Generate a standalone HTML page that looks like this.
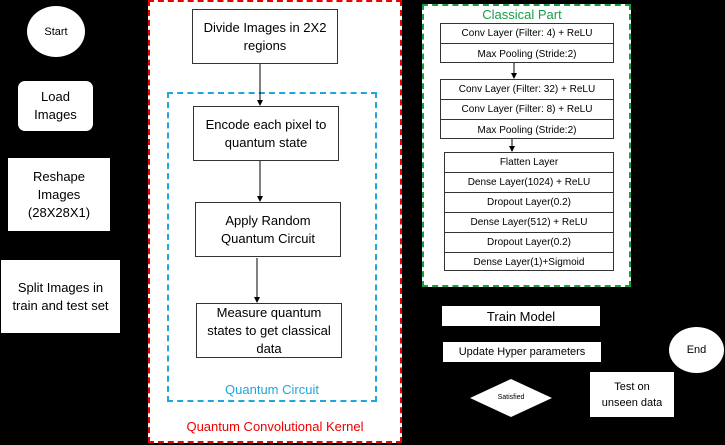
<!DOCTYPE html>
<html><head><style>
body{margin:0;width:725px;height:445px;background:#000;position:relative;overflow:hidden;font-family:"Liberation Sans",sans-serif;}
.b{position:absolute;background:#fff;box-sizing:border-box;display:flex;align-items:center;justify-content:center;text-align:center;color:#000;}
.k{border:1px solid #333;}
.t{position:absolute;text-align:center;}
.row{height:20px;border-bottom:1px solid #333;box-sizing:border-box;font-size:10px;display:flex;align-items:center;justify-content:center;}
.row:last-child{border-bottom:none;}
.g{position:absolute;background:#fff;border:1px solid #333;box-sizing:border-box;}
</style></head><body>
<div class="b" style="left:27px;top:6px;width:58px;height:51px;border-radius:50%;font-size:11px;">Start</div>
<div class="b" style="left:18px;top:81px;width:75px;height:50px;border-radius:7px;font-size:13px;line-height:18px;">Load<br>Images</div>
<div class="b" style="left:8px;top:158px;width:102px;height:73px;font-size:13px;line-height:18px;">Reshape<br>Images<br>(28X28X1)</div>
<div class="b" style="left:1px;top:260px;width:119px;height:73px;font-size:13px;line-height:18px;">Split Images in<br>train and test set</div>

<div style="position:absolute;left:148px;top:0;width:254px;height:443px;background:#fff;border:2px dashed #e00;box-sizing:border-box;"></div>
<div style="position:absolute;left:167px;top:92px;width:210px;height:310px;border:2px dashed #1ea7dd;box-sizing:border-box;"></div>
<div class="b k" style="left:192px;top:9px;width:146px;height:55px;font-size:13px;line-height:18px;">Divide Images in 2X2<br>regions</div>
<div class="b k" style="left:193px;top:106px;width:146px;height:55px;font-size:13px;line-height:18px;">Encode each pixel to<br>quantum state</div>
<div class="b k" style="left:195px;top:202px;width:146px;height:55px;font-size:13px;line-height:18px;">Apply Random<br>Quantum Circuit</div>
<div class="b k" style="left:196px;top:303px;width:146px;height:55px;font-size:13px;line-height:18px;">Measure quantum<br>states to get classical<br>data</div>
<div class="t" style="left:167px;top:382px;width:210px;color:#1ea7dd;font-size:13px;">Quantum Circuit</div>
<div class="t" style="left:148px;top:419px;width:254px;color:#e00;font-size:13px;">Quantum Convolutional Kernel</div>

<div style="position:absolute;left:422px;top:4px;width:209px;height:283px;background:#fff;border:2px dashed #1a9e45;box-sizing:border-box;"></div>
<div class="t" style="left:422px;top:7px;width:200px;color:#1a9e45;font-size:13px;">Classical Part</div>
<div class="g" style="left:440px;top:23px;width:174px;height:40px;"><div class="row">Conv Layer (Filter: 4) + ReLU</div><div class="row">Max Pooling (Stride:2)</div></div>
<div class="g" style="left:440px;top:79px;width:174px;height:60px;"><div class="row">Conv Layer (Filter: 32) + ReLU</div><div class="row">Conv Layer (Filter: 8) + ReLU</div><div class="row">Max Pooling (Stride:2)</div></div>
<div class="g" style="left:444px;top:152px;width:170px;height:119px;"><div class="row">Flatten Layer</div><div class="row">Dense Layer(1024) + ReLU</div><div class="row">Dropout Layer(0.2)</div><div class="row">Dense Layer(512) + ReLU</div><div class="row">Dropout Layer(0.2)</div><div class="row" style="height:19px">Dense Layer(1)+Sigmoid</div></div>

<svg style="position:absolute;left:0;top:0" width="725" height="445">
<defs><marker id="a" markerWidth="6" markerHeight="6" refX="5" refY="3" orient="auto"><path d="M0,0L6,3L0,6z" fill="#000"/></marker></defs>
<g stroke="#000" stroke-width="1" marker-end="url(#a)">
<line x1="260" y1="64" x2="260" y2="105"/><line x1="260" y1="161" x2="260" y2="201"/><line x1="257" y1="258" x2="257" y2="302"/>
<line x1="514" y1="63" x2="514" y2="78"/><line x1="512" y1="139" x2="512" y2="151"/>
</g>
<polygon points="470,398 511,379 552,398 511,417" fill="#fff"/>
</svg>
<div class="b" style="left:442px;top:306px;width:158px;height:20px;font-size:13px;">Train Model</div>
<div class="b" style="left:443px;top:342px;width:158px;height:20px;font-size:11px;">Update Hyper parameters</div>
<div class="b" style="left:669px;top:327px;width:55px;height:46px;border-radius:50%;font-size:11px;">End</div>
<div class="t" style="left:470px;top:394px;width:82px;font-size:7px;">Satisfied</div>
<div class="b" style="left:590px;top:372px;width:84px;height:45px;font-size:11px;line-height:16px;">Test on<br>unseen data</div>
</body></html>
